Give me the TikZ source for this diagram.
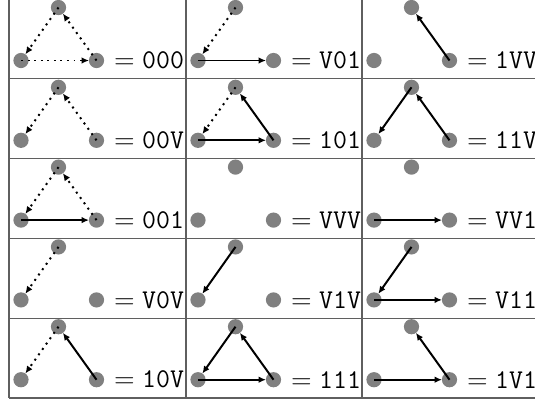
\documentclass[tikz,border=0pt]{standalone}
\usetikzlibrary{arrows.meta}
\definecolor{vgray}{RGB}{128,128,128}
\definecolor{gline}{RGB}{95,95,95}
\newcommand\codelab[1]{=\hspace{0.2778em}{\ttfamily #1}}
\begin{document}
\begin{tikzpicture}[x=0.48pt,y=-0.48pt,
  vdisc/.style={fill=vgray,draw=none},
  edge1/.style={draw=black,-{Latex[length=3.6pt,width=3.2pt]},line width=0.95pt,shorten >=3.6pt},
  edge0/.style={edge1,dash pattern=on 0.95pt off 2.2pt},
  edgeV/.style={draw=none,-},
  lab/.style={anchor=west,inner sep=0pt,text=black,font=\fontsize{13}{15}\selectfont},
  gridline/.style={draw=gline,line width=0.65pt}]
\fill[white] (0,0) rectangle (535,401);
\useasboundingbox (0,0) rectangle (535,401);
% table rules
\foreach \yy in {78.8,158.6,238.4,318.2}
  \draw[gridline] (9,\yy) -- (535,\yy);
\draw[gridline,line width=1pt] (9,398) -- (535,398);
\foreach \xx in {9,186,362}
  \draw[gridline] (\xx,0) -- (\xx,398);
% vertices (drawn bottom row first)
\foreach \i in {5,4,3,2,1} {
  \foreach \j/\xL in {3/362,2/186,1/9} {
    \pgfmathsetmacro\yT{-1+(\i-1)*79.8}
    \coordinate (L\i\j) at ({\xL+12},{\yT+61.5});
    \coordinate (T\i\j) at ({\xL+49.5},{\yT+8.5});
    \coordinate (R\i\j) at ({\xL+87.5},{\yT+61.5});
    \fill[vdisc] (T\i\j) circle[radius=3.65pt];
    \fill[vdisc] (R\i\j) circle[radius=3.65pt];
    \fill[vdisc] (L\i\j) circle[radius=3.65pt];
  }
}
% edges and labels
\foreach \i/\j/\ea/\eb/\ec in {5/3/1/V/1, 5/2/1/1/1, 5/1/1/0/V,
    4/3/V/1/1, 4/2/V/1/V, 4/1/V/0/V,
    3/3/V/V/1, 3/2/V/V/V, 3/1/0/0/1,
    2/3/1/1/V, 2/2/1/0/1, 2/1/0/0/V,
    1/3/1/V/V, 1/2/V/0/1, 1/1/0/0/0} {
  \draw[edge\ea] (R\i\j) -- (T\i\j);
  \draw[edge\eb] (T\i\j) -- (L\i\j);
  \draw[edge\ec] (L\i\j) -- (R\i\j);
  \node[lab] (txt\i\j) at ([xshift=8.2pt]R\i\j) {\codelab{\ea\eb\ec}};
}
\end{tikzpicture}
\end{document}
